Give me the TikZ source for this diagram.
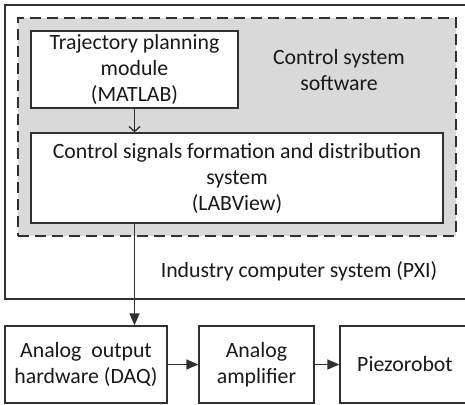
\documentclass[tikz,border=0pt]{standalone}
\usepackage{fontspec}
\setmainfont{Carlito}
\usetikzlibrary{arrows.meta}
\definecolor{ln}{HTML}{303030}
\definecolor{sw}{HTML}{D9D9D9}
\tikzset{
  blk/.style={draw=ln, line width=1.3pt, fill=white, inner sep=0pt, align=center, text=black!90,
    font=\fontsize{21.8}{26}\selectfont},
  lbl/.style={align=center, text=black!90, font=\fontsize{21.8}{26}\selectfont},
  conn/.style={draw=ln, line width=1.3pt},
}
\begin{document}
\begin{tikzpicture}[x=1pt,y=-1pt]
\useasboundingbox (0,0) rectangle (465,404);
\node[draw=ln, line width=1.3pt, minimum width=463pt, minimum height=294pt, inner sep=0pt] (pxi) at (236.5,152) {};
\node[draw=ln, fill=sw, dash pattern=on 11pt off 6pt, line width=1.3pt, minimum width=438pt, minimum height=218pt, inner sep=0pt] (soft) at (237,127) {};
\node[blk, minimum width=207pt, minimum height=77pt] (traj) at (134.5,69.5) {Trajectory planning\\module\\(MATLAB)};
\node[blk, minimum width=412pt, minimum height=90pt] (ctrl) at (237,178) {Control signals formation and distribution\\system\\(LABView)};
\node[lbl] (softlbl) at (339,70) {Control system\\software};
\node[lbl] (pxilbl) at (299,271) {Industry computer system (PXI)};
\node[blk, minimum width=162pt, minimum height=77pt] (daq) at (86,364.5) {Analog~ output\\hardware (DAQ)};
\node[blk, minimum width=115pt, minimum height=77pt] (amp) at (256.5,364.5) {Analog\\amplifier};
\node[blk, minimum width=130pt, minimum height=77pt] (piezo) at (405,364.5) {Piezorobot};
\draw[conn, -{Straight Barb[length=5pt,width=11pt]}] (traj.south) -- (traj.south |- ctrl.north);
\draw[conn, -{Triangle[length=12pt,width=10pt]}] (ctrl.south -| traj.south) -- (daq.north -| traj.south);
\draw[conn, -{Triangle[length=12pt,width=10pt]}] (daq.east) -- (amp.west);
\draw[conn, -{Triangle[length=12pt,width=10pt]}] (amp.east) -- (piezo.west);
\end{tikzpicture}
\end{document}
